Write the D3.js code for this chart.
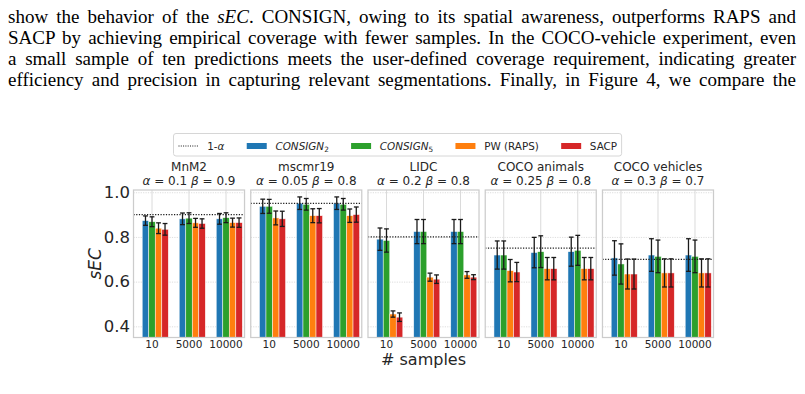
<!DOCTYPE html>
<html>
<head>
<meta charset="utf-8">
<script src="https://cdn.jsdelivr.net/npm/d3@7/dist/d3.min.js"></script>
<style>
  body { margin: 0; background: #fff; width: 805px; height: 394px; overflow: hidden; position: relative; }
  #para { position: absolute; left: 8px; top: 6px; width: 788px;
          font-family: "Liberation Serif", "Times New Roman", serif; font-size: 19px; color: #000; }
  #para div { height: 21px; line-height: 21px; white-space: nowrap; }
  #chart { position: absolute; left: 0; top: 0; }
</style>
</head>
<body>
<div id="para"></div>
<div id="chart"></div>
<script>
///////////////////////////////////////////////
// Data ///////////////////////////////////////
///////////////////////////////////////////////

var paragraphLines = [
  "show the behavior of the <i>sEC</i>. CONSIGN, owing to its spatial awareness, outperforms RAPS and",
  "SACP by achieving empirical coverage with fewer samples. In the COCO-vehicle experiment, even",
  "a small sample of ten predictions meets the user-defined coverage requirement, indicating greater",
  "efficiency and precision in capturing relevant segmentations. Finally, in Figure 4, we compare the"
];

var datasets = ["MnM2", "mscmr19", "LIDC", "COCO animals", "COCO vehicles"];
var alphas = [0.1, 0.05, 0.2, 0.25, 0.3];
var betas = [0.9, 0.8, 0.8, 0.8, 0.7];
var sampleSizes = ["10", "5000", "10000"];
var methods = ["CONSIGN2", "CONSIGN5", "PW (RAPS)", "SACP"];
var yTicks = [0.4, 0.6, 0.8, 1.0];

// mean sEC : [dataset][sample size]
var consign2Mean = [[0.873, 0.881, 0.881], [0.937, 0.951, 0.951], [0.790, 0.824, 0.824], [0.719, 0.730, 0.734], [0.706, 0.719, 0.719]];
var consign5Mean = [[0.868, 0.884, 0.886], [0.937, 0.946, 0.946], [0.784, 0.824, 0.824], [0.719, 0.734, 0.740], [0.679, 0.713, 0.713]];
var rapsMean     = [[0.839, 0.863, 0.864], [0.885, 0.895, 0.895], [0.455, 0.620, 0.630], [0.649, 0.658, 0.658], [0.634, 0.639, 0.639]];
var sacpMean     = [[0.834, 0.860, 0.864], [0.881, 0.895, 0.900], [0.441, 0.611, 0.620], [0.643, 0.658, 0.658], [0.634, 0.639, 0.639]];

// error bar half width
var consign2Err = [[0.021, 0.026, 0.024], [0.032, 0.028, 0.028], [0.050, 0.054, 0.054], [0.063, 0.068, 0.065], [0.077, 0.073, 0.073]];
var consign5Err = [[0.022, 0.024, 0.022], [0.031, 0.026, 0.026], [0.052, 0.054, 0.054], [0.063, 0.071, 0.067], [0.090, 0.073, 0.073]];
var rapsErr     = [[0.024, 0.020, 0.020], [0.031, 0.031, 0.030], [0.014, 0.018, 0.015], [0.050, 0.050, 0.050], [0.067, 0.063, 0.063]];
var sacpErr     = [[0.026, 0.021, 0.021], [0.034, 0.032, 0.034], [0.019, 0.019, 0.011], [0.043, 0.050, 0.050], [0.067, 0.063, 0.063]];

var means = [consign2Mean, consign5Mean, rapsMean, sacpMean];
var errs = [consign2Err, consign5Err, rapsErr, sacpErr];

var color = ["#1f77b4", "#2ca02c", "#ff7f0e", "#d62728"];

var rows = [];
datasets.forEach(function(ds, i) {
  sampleSizes.forEach(function(s, j) {
    methods.forEach(function(m, k) {
      rows.push({ dataset: ds, samples: s, method: m, mean: means[k][i][j], err: errs[k][i][j] });
    });
  });
});

///////////////////////////////////////////////
// Text above /////////////////////////////////
///////////////////////////////////////////////

var paraWidth = 788;

// justify each line by spreading the word spaces
d3.select("#para").selectAll("div")
  .data(paragraphLines)
  .enter().append("div")
  .append("span")
  .html(function(d) { return d; })
  .each(function() {
    var w = this.getBoundingClientRect().width;
    var n = (this.textContent.match(/ /g) || []).length;
    d3.select(this).style("word-spacing", ((paraWidth - w) / n) + "px");
  });

///////////////////////////////////////////////
// Graph parameters ///////////////////////////
///////////////////////////////////////////////

var width = 805, height = 394;
var plotLeft = 133.5, plotRight = 713.5, plotTop = 190, plotBottom = 337.5;
var font = "DejaVu Sans";

var svg = d3.select("#chart").append("svg")
  .attr("width", width)
  .attr("height", height);

///////////////////////////////////////////////
// Scales /////////////////////////////////////
///////////////////////////////////////////////

var xPanel = d3.scaleBand()
  .domain(datasets)
  .range([plotLeft, plotRight])
  .paddingInner(0.053);

var panelW = xPanel.bandwidth();

var xGroup = d3.scaleBand()
  .domain(sampleSizes)
  .range([0, panelW])
  .paddingInner(0.12)
  .paddingOuter(0.06);

// first slot is the (empty) 1-alpha hue level
var xHue = d3.scaleBand()
  .domain(["1-α"].concat(methods))
  .range([0, xGroup.bandwidth()]);

var y = d3.scaleLinear()
  .domain([0.35, 1.01])
  .range([plotBottom, plotTop]);

var colorScale = d3.scaleOrdinal().domain(methods).range(color);

///////////////////////////////////////////////
// Panels /////////////////////////////////////
///////////////////////////////////////////////

var panel = svg.selectAll(".panel")
  .data(datasets)
  .enter().append("g")
  .attr("class", "panel")
  .attr("transform", function(d) { return "translate(" + xPanel(d) + ",0)"; });

// horizontal grid
panel.append("g")
  .call(d3.axisLeft(y).tickValues(yTicks).tickSize(-panelW).tickFormat(""))
  .call(function(g) {
    g.select(".domain").remove();
    g.selectAll(".tick line").attr("stroke", "#d4d4d4").attr("stroke-width", 0.8).attr("stroke-dasharray", "1.2,1.2");
  });

// vertical grid + x tick labels
panel.append("g")
  .attr("transform", "translate(0," + plotBottom + ")")
  .call(d3.axisBottom(xGroup).tickSize(-(plotBottom - plotTop)).tickPadding(4))
  .call(function(g) {
    g.select(".domain").remove();
    g.selectAll(".tick line").attr("stroke", "#dadada").attr("stroke-width", 1);
    g.selectAll(".tick text")
      .attr("y", 3.5)
      .style("font-family", font)
      .style("font-size", "10.5px")
      .style("fill", "#262626");
  });

// bars
var bar = panel.selectAll(".bar")
  .data(function(ds) { return rows.filter(function(r) { return r.dataset === ds; }); })
  .enter().append("g")
  .attr("class", "bar");

bar.append("rect")
  .attr("x", function(d) { return xGroup(d.samples) + xHue(d.method); })
  .attr("width", xHue.bandwidth())
  .attr("y", function(d) { return y(d.mean); })
  .attr("height", function(d) { return plotBottom - y(d.mean); })
  .attr("fill", function(d) { return colorScale(d.method); })
  .attr("stroke", "#ffffff")
  .attr("stroke-opacity", 0.8)
  .attr("stroke-width", 0.6);

// error bars
var capW = 2.4;
function cx(d) { return xGroup(d.samples) + xHue(d.method) + xHue.bandwidth() / 2; }

bar.append("line")
  .attr("x1", cx).attr("x2", cx)
  .attr("y1", function(d) { return y(d.mean - d.err); })
  .attr("y2", function(d) { return y(d.mean + d.err); });

bar.append("line")
  .attr("x1", function(d) { return cx(d) - capW; })
  .attr("x2", function(d) { return cx(d) + capW; })
  .attr("y1", function(d) { return y(d.mean + d.err); })
  .attr("y2", function(d) { return y(d.mean + d.err); });

bar.append("line")
  .attr("x1", function(d) { return cx(d) - capW; })
  .attr("x2", function(d) { return cx(d) + capW; })
  .attr("y1", function(d) { return y(d.mean - d.err); })
  .attr("y2", function(d) { return y(d.mean - d.err); });

bar.selectAll("line")
  .attr("stroke", "#1a1a1a")
  .attr("stroke-width", 1.3);

// 1 - alpha line
panel.append("line")
  .attr("x1", 0)
  .attr("x2", panelW)
  .attr("y1", function(d, i) { return y(1 - alphas[i]); })
  .attr("y2", function(d, i) { return y(1 - alphas[i]); })
  .attr("stroke", "#1a1a1a")
  .attr("stroke-width", 1.2)
  .attr("stroke-dasharray", "1.2,1.5");

// frame
panel.append("rect")
  .attr("x", 0)
  .attr("y", plotTop)
  .attr("width", panelW)
  .attr("height", plotBottom - plotTop)
  .attr("fill", "none")
  .attr("stroke", "#cccccc")
  .attr("stroke-width", 1.25);

// titles
panel.append("text")
  .attr("x", panelW / 2)
  .attr("y", 171)
  .attr("text-anchor", "middle")
  .style("font-family", font)
  .style("font-size", "12px")
  .style("fill", "#262626")
  .text(function(d) { return d; });

var sub = panel.append("text")
  .attr("x", panelW / 2)
  .attr("y", 184.5)
  .attr("text-anchor", "middle")
  .style("font-family", font)
  .style("font-size", "12px")
  .style("fill", "#262626");

sub.append("tspan").style("font-style", "italic").text("α");
sub.append("tspan").text(function(d, i) { return " = " + alphas[i] + " "; });
sub.append("tspan").style("font-style", "italic").text("β");
sub.append("tspan").text(function(d, i) { return " = " + betas[i]; });

///////////////////////////////////////////////
// Axes ///////////////////////////////////////
///////////////////////////////////////////////

svg.append("g")
  .attr("transform", "translate(" + plotLeft + ",0)")
  .call(d3.axisLeft(y).tickValues(yTicks).tickFormat(d3.format(".1f")).tickSize(0).tickPadding(3.5))
  .call(function(g) {
    g.select(".domain").remove();
    g.selectAll(".tick text")
      .style("font-family", font)
      .style("font-size", "16.5px")
      .style("fill", "#262626");
  });

svg.append("text")
  .attr("transform", "translate(101," + (plotTop + plotBottom) / 2 + ") rotate(-90)")
  .attr("text-anchor", "middle")
  .style("font-family", font)
  .style("font-size", "17px")
  .style("font-style", "italic")
  .style("fill", "#262626")
  .text("sEC");

svg.append("text")
  .attr("x", (plotLeft + plotRight) / 2)
  .attr("y", 365)
  .attr("text-anchor", "middle")
  .style("font-family", font)
  .style("font-size", "16px")
  .style("fill", "#262626")
  .text("# samples");

///////////////////////////////////////////////
// Legend /////////////////////////////////////
///////////////////////////////////////////////

var legendItems = [{ label: "1-α", type: "line" }].concat(methods.map(function(m) { return { label: m, type: "rect" }; }));
var legendLeft = 173.5, legendTop = 133.5, legendH = 22.5, legendMidY = 146;

var legendBox = svg.append("rect")
  .attr("x", legendLeft)
  .attr("y", legendTop)
  .attr("height", legendH)
  .attr("rx", 2.5)
  .attr("fill", "#fff")
  .attr("stroke", "#d6d6d6")
  .attr("stroke-width", 1);

var lx = legendLeft + 5;
legendItems.forEach(function(it) {
  var g = svg.append("g");
  if (it.type === "line") {
    g.append("line")
      .attr("x1", lx).attr("x2", lx + 20)
      .attr("y1", legendMidY).attr("y2", legendMidY)
      .attr("stroke", "#1a1a1a")
      .attr("stroke-width", 1)
      .attr("stroke-dasharray", "1,1.3");
  } else {
    g.append("rect")
      .attr("x", lx).attr("width", 20)
      .attr("y", legendMidY - 3).attr("height", 6)
      .attr("fill", colorScale(it.label));
  }
  var t = g.append("text")
    .attr("x", lx + 28.7)
    .attr("y", legendMidY + 3.7)
    .style("font-family", font)
    .style("font-size", "10.4px")
    .style("fill", "#262626");
  var m = it.label.match(/^(CONSIGN)(\d)$/);
  if (m) {
    t.append("tspan").style("font-style", "italic").text(m[1]);
    t.append("tspan").attr("dy", 2).style("font-size", "7.3px").text(m[2]);
  } else if (it.label === "1-α") {
    t.append("tspan").text("1-");
    t.append("tspan").style("font-style", "italic").text("α");
  } else {
    t.text(it.label);
  }
  lx = lx + 28.7 + t.node().getComputedTextLength() + 22.3;
});

legendBox.attr("width", lx - 22.3 + 4.5 - legendLeft);
</script>
</body>
</html>
